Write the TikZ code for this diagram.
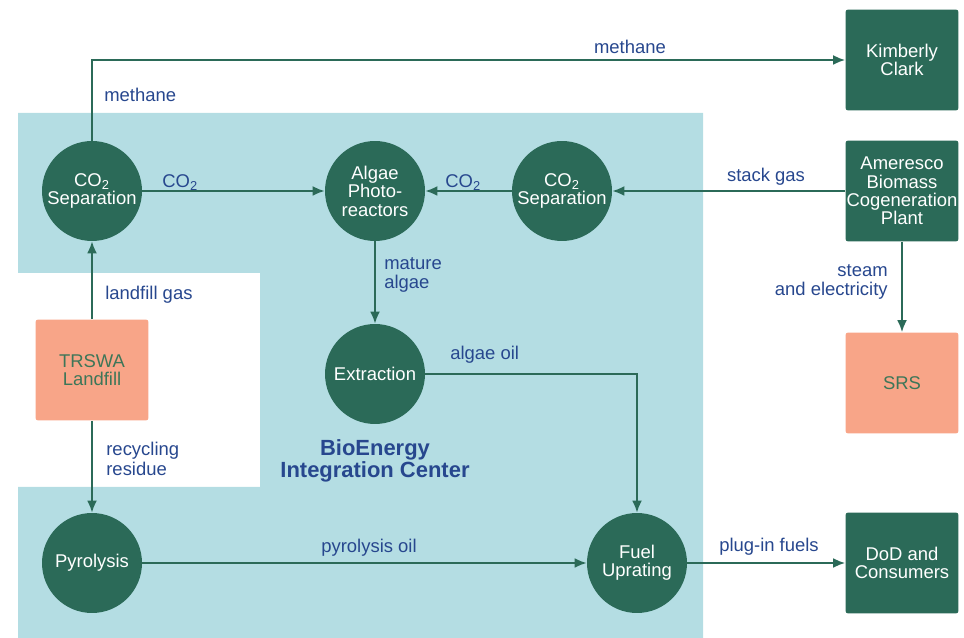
\documentclass[tikz,border=0pt]{standalone}
\usepackage{fontspec}
\setmainfont{Liberation Sans}
\usepackage{xcolor}
\usetikzlibrary{positioning,arrows.meta}
\definecolor{cgreen}{HTML}{2B6A58}
\definecolor{cpool}{HTML}{B4DDE3}
\definecolor{csalmon}{HTML}{F8A588}
\definecolor{cnavy}{HTML}{27478E}
\definecolor{cleaf}{HTML}{3D7658}
\tikzset{
  unit/.style={circle,fill=cgreen,text=white,minimum size=2cm,inner sep=0pt,align=center,font=\fontsize{10.5}{10.5}\selectfont},
  site/.style={rectangle,rounded corners=1.5pt,fill=cgreen,text=white,minimum width=2.26cm,minimum height=2.02cm,inner sep=0pt,align=center,font=\fontsize{10.5}{10.5}\selectfont},
  source/.style={site,fill=csalmon,text=cleaf},
  flow/.style={draw=cgreen,line width=1.2pt,-{Latex[length=2.4mm,width=2mm]}},
  lbl/.style={text=cnavy,inner sep=0pt,align=left,font=\fontsize{10.5}{11}\selectfont}
}

\begin{document}
\begin{tikzpicture}[x=0.02cm,y=-0.02cm]
    \useasboundingbox (0,0) rectangle (964,638);
    % integration center area
    \fill[cpool] (18,113) -- (703,113) -- (703,638) -- (18,638) -- (18,487)
      -- (260,487) -- (260,273) -- (18,273) -- cycle;

    \node[unit] (sepL) at (92,191) {CO\textsubscript{2}\\Separation};
    \node[unit] (algae) at (375,191) {Algae\\Photo-\\reactors};
    \node[unit] (sepR) at (562,191) {CO\textsubscript{2}\\Separation};
    \node[unit] (ext) at (375,374) {Extraction};
    \node[unit] (pyro) at (92,563) {Pyrolysis};
    \node[unit] (fuel) at (637,563) {Fuel\\Uprating};

    \node[site] (kc) at (902,60) {Kimberly\\Clark};
    \node[site] (amer) at (902,191) {Ameresco\\Biomass\\Cogeneration\\Plant};
    \node[source] (srs) at (902,383) {SRS};
    \node[site] (dod) at (902,563) {DoD and\\Consumers};
    \node[source] (trswa) at (92,370) {TRSWA\\Landfill};

    \draw[flow] (sepL.north) |- (kc.west);
    \draw[flow] (sepL.east) -- (algae.west);
    \draw[flow] (sepR.west) -- (algae.east);
    \draw[flow] (amer.west) -- (sepR.east);
    \draw[flow] (amer.south) -- (srs.north);
    \draw[flow] (algae.south) -- (ext.north);
    \draw[flow] (ext.east) -| (fuel.north);
    \draw[flow] (trswa.north) -- (sepL.south);
    \draw[flow] (trswa.south) -- (pyro.north);
    \draw[flow] (pyro.east) -- (fuel.west);
    \draw[flow] (fuel.east) -- (dod.west);

    \node[lbl] (lMethTop) at (630,47) {methane};
    \node[lbl,anchor=west] (lMethUp) at (104,95) {methane};
    \node[lbl,anchor=west] (lCoL) at (162,183) {CO\textsubscript{2}};
    \node[lbl,anchor=west] (lCoR) at (445,183) {CO\textsubscript{2}};
    \node[lbl] (lStack) at (766,177) {stack gas};
    \node[lbl,anchor=east,align=right] (lSteam) at (888,282) {steam\\and electricity};
    \node[lbl,anchor=west] (lMature) at (384,275) {mature\\algae};
    \node[lbl,anchor=west] (lOil) at (450,355) {algae oil};
    \node[lbl,anchor=west] (lGas) at (105,295) {landfill gas};
    \node[lbl,anchor=west] (lResidue) at (106,459) {recycling\\residue};
    \node[lbl] (lPyro) at (369,548) {pyrolysis oil};
    \node[lbl] (lPlug) at (769,547) {plug-in fuels};
    \node[lbl,align=center,font=\bfseries\fontsize{12.5}{12.5}\selectfont] (lCenter) at (375,461) {BioEnergy\\Integration Center};
  \end{tikzpicture}
\end{document}
